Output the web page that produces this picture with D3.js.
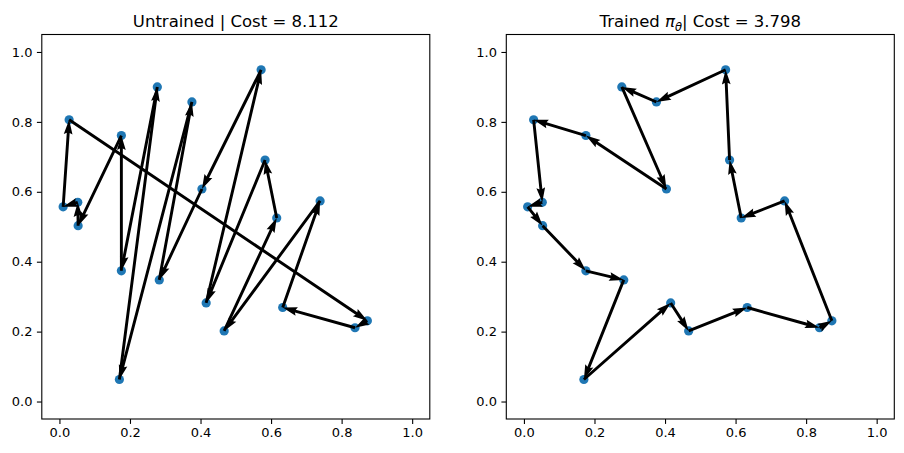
<!DOCTYPE html>
<html>
<head>
<meta charset="utf-8">
<script src="https://cdn.jsdelivr.net/npm/d3@7"></script>
<style>
  body { margin: 0; background: #fff; }
  text { font-family: "DejaVu Sans", sans-serif; fill: #000; }
</style>
</head>
<body>
<div class="chart"></div>
<script>
// City coordinates (20 cities)
var cityX = [0.0105, 0.0275, 0.052, 0.053, 0.1756, 0.1756, 0.170, 0.2775, 0.283, 0.3756,
             0.404, 0.416, 0.467, 0.5718, 0.583, 0.616, 0.633, 0.739, 0.838, 0.873];
var cityY = [0.557, 0.806, 0.570, 0.503, 0.761, 0.374, 0.063, 0.900, 0.348, 0.857,
             0.608, 0.282, 0.202, 0.949, 0.691, 0.525, 0.269, 0.574, 0.211, 0.231];

// Visiting order of each tour (closed loop)
var untrainedTour = [0, 1, 19, 18, 16, 17, 12, 15, 14, 11, 13, 10, 8, 9, 6, 7, 5, 4, 3, 2];
var trainedTour = [13, 9, 7, 10, 4, 1, 2, 0, 3, 5, 8, 6, 11, 12, 16, 18, 19, 17, 15, 14];

var tickValues = [0.0, 0.2, 0.4, 0.6, 0.8, 1.0];
var axisDomain = [-0.05, 1.05];

var svgWidth = 904;
var svgHeight = 453;

var plotWidth = 388;
var plotHeight = 384.5;
var plotTop = 34.5;

var svg = d3
  .select(".chart")
  .append("svg")
  .attr("width", svgWidth)
  .attr("height", svgHeight);

// quiver-like arrow outline (in shaft-width units), like matplotlib's defaults
function arrowPoints(len, w) {
  var headLength = 5, headAxisLength = 4.5, headWidth = 3;
  var L = len / w;
  var xs, ys;
  if (L < headLength) {
    var s = L / headLength;
    xs = [0, headLength - headAxisLength, 0, headLength].map(function(v) { return v * s; });
    ys = [0.5, 0.5, headWidth / 2, 0].map(function(v) { return v * s; });
  } else {
    xs = [0, L - headAxisLength, L - headLength, L];
    ys = [0.5, 0.5, headWidth / 2, 0];
  }
  var ii = [0, 1, 2, 3, 2, 1, 0];
  var sign = [1, 1, 1, 1, -1, -1, -1];
  return ii.map(function(k, j) {
    return (xs[k] * w) + "," + (ys[k] * sign[j] * w);
  }).join(" ");
}

function drawPanel(left, tour, titleParts) {
  var g = svg.append("g")
    .attr("transform", "translate(" + left + "," + plotTop + ")");

  var xScale = d3.scaleLinear().domain(axisDomain).range([0, plotWidth]);
  var yScale = d3.scaleLinear().domain(axisDomain).range([plotHeight, 0]);

  var bottomAxis = d3.axisBottom(xScale)
    .tickValues(tickValues)
    .tickFormat(d3.format(".1f"))
    .tickSizeOuter(0)
    .tickSizeInner(4.9)
    .tickPadding(3.6);
  var leftAxis = d3.axisLeft(yScale)
    .tickValues(tickValues)
    .tickFormat(d3.format(".1f"))
    .tickSizeOuter(0)
    .tickSizeInner(4.9)
    .tickPadding(4.4);

  var xa = g.append("g")
    .attr("transform", "translate(0," + plotHeight + ")")
    .call(bottomAxis);
  var ya = g.append("g").call(leftAxis);

  [xa, ya].forEach(function(a) {
    a.select(".domain").remove();
    a.selectAll("line").attr("stroke", "#000").attr("stroke-width", 1.1);
    a.selectAll("text")
      .attr("fill", "#000")
      .style("font-family", "DejaVu Sans, sans-serif")
      .style("font-size", "13px");
  });

  // frame
  g.append("rect")
    .attr("width", plotWidth)
    .attr("height", plotHeight)
    .attr("fill", "none")
    .attr("stroke", "#000")
    .attr("stroke-width", 1.1);

  // cities
  g.selectAll("circle")
    .data(cityX)
    .enter()
    .append("circle")
    .attr("cx", function(d, i) { return xScale(cityX[i]); })
    .attr("cy", function(d, i) { return yScale(cityY[i]); })
    .attr("r", 4.6)
    .attr("fill", "#1f77b4");

  // tour edges as arrows
  var shaft = 0.0075 * plotWidth;
  var edges = tour.map(function(c, i) {
    return { from: c, to: tour[(i + 1) % tour.length] };
  });

  g.selectAll("polygon.arrow")
    .data(edges)
    .enter()
    .append("polygon")
    .attr("class", "arrow")
    .attr("fill", "#000")
    .attr("transform", function(e) {
      var x0 = xScale(cityX[e.from]), y0 = yScale(cityY[e.from]);
      var x1 = xScale(cityX[e.to]), y1 = yScale(cityY[e.to]);
      var ang = Math.atan2(y1 - y0, x1 - x0) * 180 / Math.PI;
      return "translate(" + x0 + "," + y0 + ") rotate(" + ang + ")";
    })
    .attr("points", function(e) {
      var x0 = xScale(cityX[e.from]), y0 = yScale(cityY[e.from]);
      var x1 = xScale(cityX[e.to]), y1 = yScale(cityY[e.to]);
      return arrowPoints(Math.hypot(x1 - x0, y1 - y0), shaft);
    });

  // title
  var title = g.append("text")
    .attr("x", plotWidth / 2)
    .attr("y", -7.5)
    .attr("text-anchor", "middle")
    .style("font-size", "16.5px");
  titleParts.forEach(function(p) {
    var t = title.append("tspan").text(p.text);
    if (p.italic) t.style("font-style", "italic");
    if (p.sub) t.attr("dy", 3.5).style("font-size", "11.5px");
    if (p.back) t.attr("dy", -3.5);
  });
}

drawPanel(41.8, untrainedTour, [{ text: "Untrained | Cost = 8.112" }]);
drawPanel(506.3, trainedTour, [
  { text: "Trained " },
  { text: "\u03c0", italic: true },
  { text: "\u03b8", italic: true, sub: true },
  { text: "| Cost = 3.798", back: true }
]);
</script>
</body>
</html>
